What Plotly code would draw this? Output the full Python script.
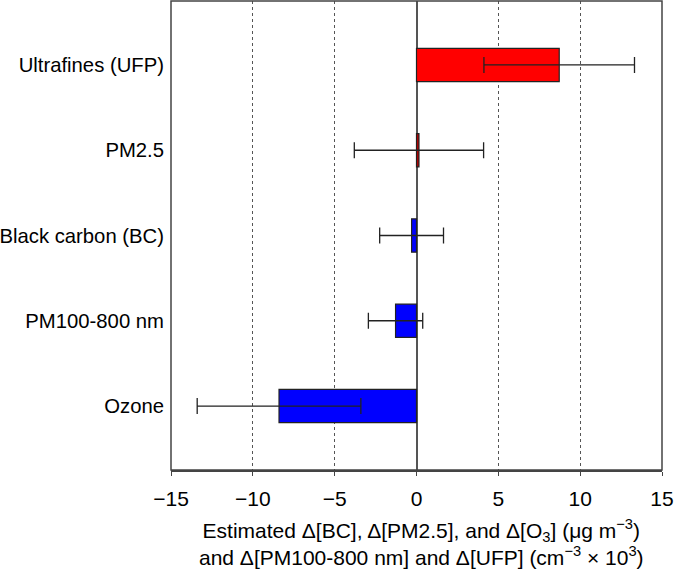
import plotly.graph_objects as go

categories = ["Ozone", "PM100-800 nm", "Black carbon (BC)", "PM2.5", "Ultrafines (UFP)"]
estimates = [-8.4, -1.28, -0.3, 0.15, 8.72]
errors = [5.0, 1.66, 1.95, 3.95, 4.6]
colors = ["#0000FF", "#0000FF", "#0000FF", "#B80000", "#FF0000"]
x_ticks = [-15, -10, -5, 0, 5, 10, 15]

ypos = list(range(len(categories)))

fig = go.Figure()
fig.add_trace(go.Bar(
    x=estimates, y=ypos, orientation="h", width=0.39,
    marker=dict(color=colors, line=dict(color="#222222", width=1.2)),
    error_x=dict(type="data", array=errors, visible=True, color="#222222",
                 thickness=1.3, width=8),
    showlegend=False,
))

fig.update_layout(
    width=675, height=569,
    margin=dict(l=171, r=13, t=1, b=99),
    plot_bgcolor="white", paper_bgcolor="white",
    font=dict(family="Liberation Sans, Arial, sans-serif", size=20, color="black"),
    xaxis=dict(
        range=[-15, 15], tickvals=x_ticks, automargin=False,
        showgrid=True, gridcolor="#555555", griddash="dot", gridwidth=1,
        zeroline=True, zerolinecolor="#555555", zerolinewidth=2,
        showline=True, linecolor="#444444", linewidth=1.5,
        ticks="outside", ticklen=4, tickcolor="#444444",
        ticklabelstandoff=5, tickfont=dict(size=21),
    ),
    yaxis=dict(
        range=[-0.75, 4.75], tickvals=ypos, ticktext=categories, automargin=False,
        showgrid=False, zeroline=False, showline=False,
        ticks="", ticklabelstandoff=6, tickfont=dict(size=20.3),
    ),
    shapes=[
        dict(type="rect", xref="paper", yref="paper", x0=0, x1=1, y0=0, y1=1,
             line=dict(color="#444444", width=1.5), layer="above"),
    ],
    annotations=[
        dict(text="Estimated Δ[BC], Δ[PM2.5], and Δ[O<sub>3</sub>] (μg m<sup>−3</sup>)<br>"
                  "and Δ[PM100-800 nm] and Δ[UFP] (cm<sup>−3</sup> × 10<sup>3</sup>)",
             xref="paper", yref="paper", x=0.51, y=0, yshift=-44,
             xanchor="center", yanchor="top", showarrow=False,
             font=dict(size=21), align="center"),
    ],
)

fig.write_html("out.html", config={"displayModeBar": False},
               post_script="document.body.style.margin='0';")
